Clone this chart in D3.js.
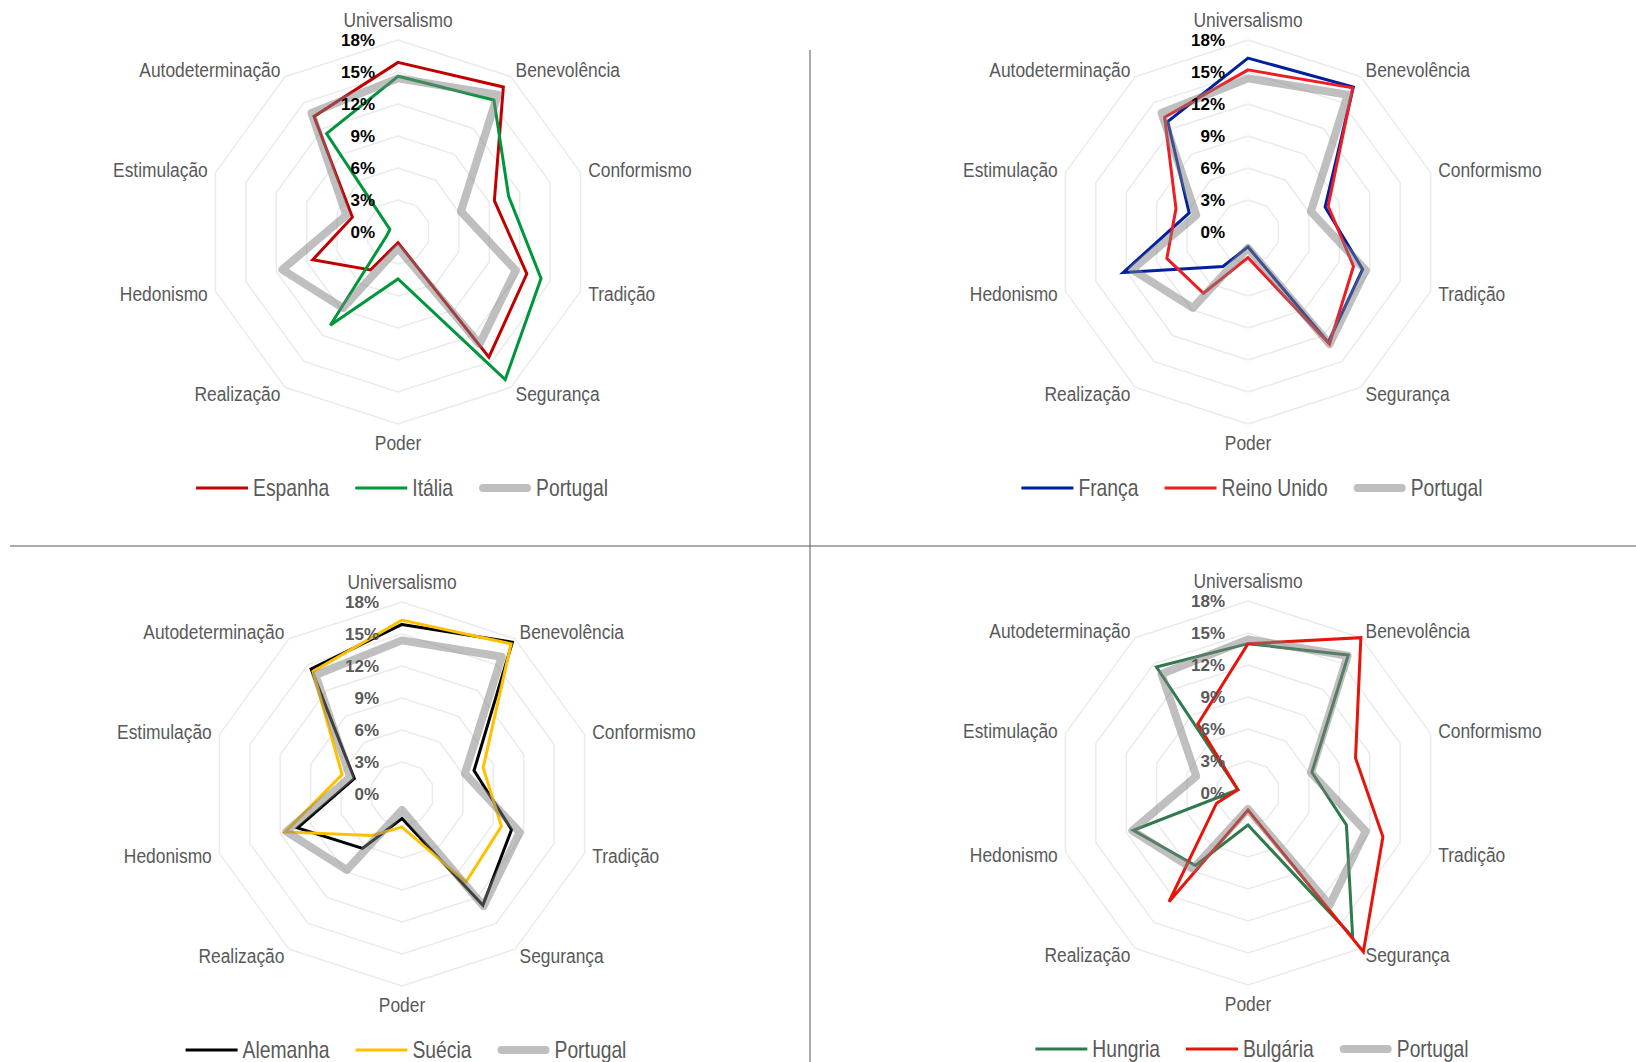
<!DOCTYPE html>
<html lang="pt">
<head>
<meta charset="utf-8">
<title>Valores humanos — Portugal e países europeus</title>
<script src="https://cdn.jsdelivr.net/npm/d3@7"></script>
<style>
  html, body { margin: 0; padding: 0; background: #ffffff; }
  svg { display: block; }
  .cat { font-family: 'Liberation Sans', Arial, sans-serif; font-size: 20px; fill: #595959; }
  .tick { font-family: 'Liberation Sans', Arial, sans-serif; font-weight: bold; font-size: 17px; }
  .leg { font-family: 'Liberation Sans', Arial, sans-serif; font-size: 23px; fill: #595959; }
</style>
</head>
<body>
<svg id="chart" width="1636" height="1062"></svg>
<script>
// Ten value dimensions, clockwise from the top
const categories = ["Universalismo", "Benevolência", "Conformismo", "Tradição", "Segurança",
                    "Poder", "Realização", "Hedonismo", "Estimulação", "Autodeterminação"];
const tickValues = [0, 3, 6, 9, 12, 15, 18];
const tickLabels = ["0%", "3%", "6%", "9%", "12%", "15%", "18%"];

// Share of each value (%) per country
const portugal   = [14.4, 15.9, 6.2, 11.6, 13.0, 1.5, 8.8, 11.4, 5.1, 13.8];
const espanha    = [15.9, 16.8, 9.5, 12.7, 14.5, 1.0, 4.4, 8.4, 4.5, 13.4];
const italia     = [14.6, 15.3, 10.9, 14.1, 17.1, 4.4, 10.8, 1.1, 0.8, 11.4];
const franca     = [16.3, 16.8, 7.6, 11.3, 12.8, 1.4, 4.0, 12.3, 5.8, 12.8];
const reinoUnido = [15.2, 16.7, 7.9, 10.4, 13.0, 2.4, 7.1, 8.0, 7.1, 13.3];
const alemanha   = [15.9, 17.6, 7.1, 10.8, 12.9, 2.3, 6.3, 10.3, 4.7, 14.5];
const suecia     = [16.3, 17.4, 8.0, 9.8, 10.2, 3.1, 4.8, 11.5, 5.9, 14.2];
const hungria    = [14.0, 16.0, 6.3, 9.7, 16.7, 3.0, 8.4, 11.3, 1.0, 14.6];
const bulgaria   = [14.0, 18.0, 10.6, 13.3, 18.4, 1.6, 12.6, 3.1, 1.0, 8.0];

// Panel definitions: two compared countries plus Portugal in each
const panels = [
  { cx: 398,  cy: 232, tickColor: "#000000",
    series: [{ name: "Espanha", values: espanha, color: "#c00000" },
             { name: "Itália", values: italia, color: "#00963c" }] },
  { cx: 1248, cy: 232, tickColor: "#000000",
    series: [{ name: "França", values: franca, color: "#00209f" },
             { name: "Reino Unido", values: reinoUnido, color: "#ee1c25" }] },
  { cx: 402,  cy: 794, tickColor: "#595959",
    series: [{ name: "Alemanha", values: alemanha, color: "#000000" },
             { name: "Suécia", values: suecia, color: "#ffc000" }] },
  { cx: 1248, cy: 793, tickColor: "#595959",
    series: [{ name: "Hungria", values: hungria, color: "#2e7a4c" },
             { name: "Bulgária", values: bulgaria, color: "#e8140a" }] }
];

const svg = d3.select("#chart");
const maxR = 192;
const r = d3.scaleLinear().domain([0, 18]).range([0, maxR]);
const angle = d3.scalePoint().domain(categories).range([0, 2 * Math.PI * (categories.length - 1) / categories.length]);

const portugalStyle = { name: "Portugal", values: portugal, color: "#7f7f7f", width: 8, opacity: 0.5 };

// Narrow text: regular face compressed horizontally around its anchor point
const catScale = 0.87, legScale = 0.84;
function narrowText(parent, x, y, cls, scaleX) {
  const holder = parent.append("g").attr("transform", `translate(${x},${y}) scale(${scaleX},1)`);
  return holder.append("text").attr("class", cls).attr("x", 0).attr("y", 0);
}

// Separators between the four panels
svg.append("line").attr("x1", 810).attr("x2", 810).attr("y1", 50).attr("y2", 1062)
  .attr("stroke", "#595959").attr("stroke-width", 1);
svg.append("line").attr("x1", 10).attr("x2", 1636).attr("y1", 546).attr("y2", 546)
  .attr("stroke", "#595959").attr("stroke-width", 1);

const radial = d3.lineRadial()
  .angle(d => angle(d.cat))
  .radius(d => r(d.v))
  .curve(d3.curveLinearClosed);

panels.forEach(p => {
  const g = svg.append("g").attr("transform", `translate(${p.cx},${p.cy})`);

  // Gridline decagons
  tickValues.filter(t => t > 0).forEach(t => {
    g.append("path")
      .attr("d", radial(categories.map(c => ({ cat: c, v: t }))))
      .attr("fill", "none").attr("stroke", "#ebebeb").attr("stroke-width", 1.5);
  });

  // Category labels
  categories.forEach(c => {
    const a = angle(c);
    const s = Math.sin(a), co = Math.cos(a);
    const R = 200;
    const anchor = Math.abs(s) < 0.01 ? "middle" : (s > 0 ? "start" : "end");
    let yOff = 0;
    if (Math.abs(s) < 0.01) yOff = co > 0 ? -12 : 11;
    narrowText(g, R * s, -R * co + yOff, "cat", catScale)
      .attr("text-anchor", anchor).attr("dominant-baseline", "central")
      .text(c);
  });

  // Country lines
  p.series.forEach(s => {
    g.append("path")
      .attr("d", radial(categories.map((c, i) => ({ cat: c, v: s.values[i] }))))
      .attr("fill", "none").attr("stroke", s.color).attr("stroke-width", 3)
      .attr("stroke-linejoin", "miter");
  });

  // Portugal reference, translucent on top
  g.append("path")
    .attr("d", radial(categories.map((c, i) => ({ cat: c, v: portugal[i] }))))
    .attr("fill", "none").attr("stroke", portugalStyle.color)
    .attr("stroke-opacity", portugalStyle.opacity)
    .attr("stroke-width", portugalStyle.width).attr("stroke-linejoin", "round");

  // Percent tick labels along the vertical axis
  tickValues.forEach((t, i) => {
    g.append("text").attr("class", "tick")
      .attr("x", -23).attr("y", -r(t))
      .attr("text-anchor", "end").attr("dominant-baseline", "central")
      .attr("fill", p.tickColor)
      .text(tickLabels[i]);
  });

  // Legend, centred below the radar
  const items = p.series.map(s => ({ name: s.name, color: s.color, width: 3, opacity: 1, cap: "butt" }))
    .concat([{ name: portugalStyle.name, color: portugalStyle.color, width: portugalStyle.width,
               opacity: portugalStyle.opacity, cap: "round" }]);
  const leg = g.append("g");
  const lineLen = 52, gap = 5, spacing = 26;
  let x = 0;
  items.forEach(it => {
    const ig = leg.append("g").attr("transform", `translate(${x},0)`);
    const isRound = it.cap === "round";
    ig.append("line")
      .attr("x1", isRound ? 4 : 0).attr("x2", isRound ? lineLen - 4 : lineLen)
      .attr("y1", 0).attr("y2", 0)
      .attr("stroke", it.color).attr("stroke-opacity", it.opacity)
      .attr("stroke-width", it.width).attr("stroke-linecap", it.cap);
    const t = narrowText(ig, lineLen + gap, 0, "leg", legScale)
      .attr("dominant-baseline", "central")
      .text(it.name);
    const w = lineLen + gap + t.node().getComputedTextLength() * legScale;
    x += w + spacing;
  });
  const total = x - spacing;
  leg.attr("transform", `translate(${4 - total / 2},256)`);
});
</script>
</body>
</html>
